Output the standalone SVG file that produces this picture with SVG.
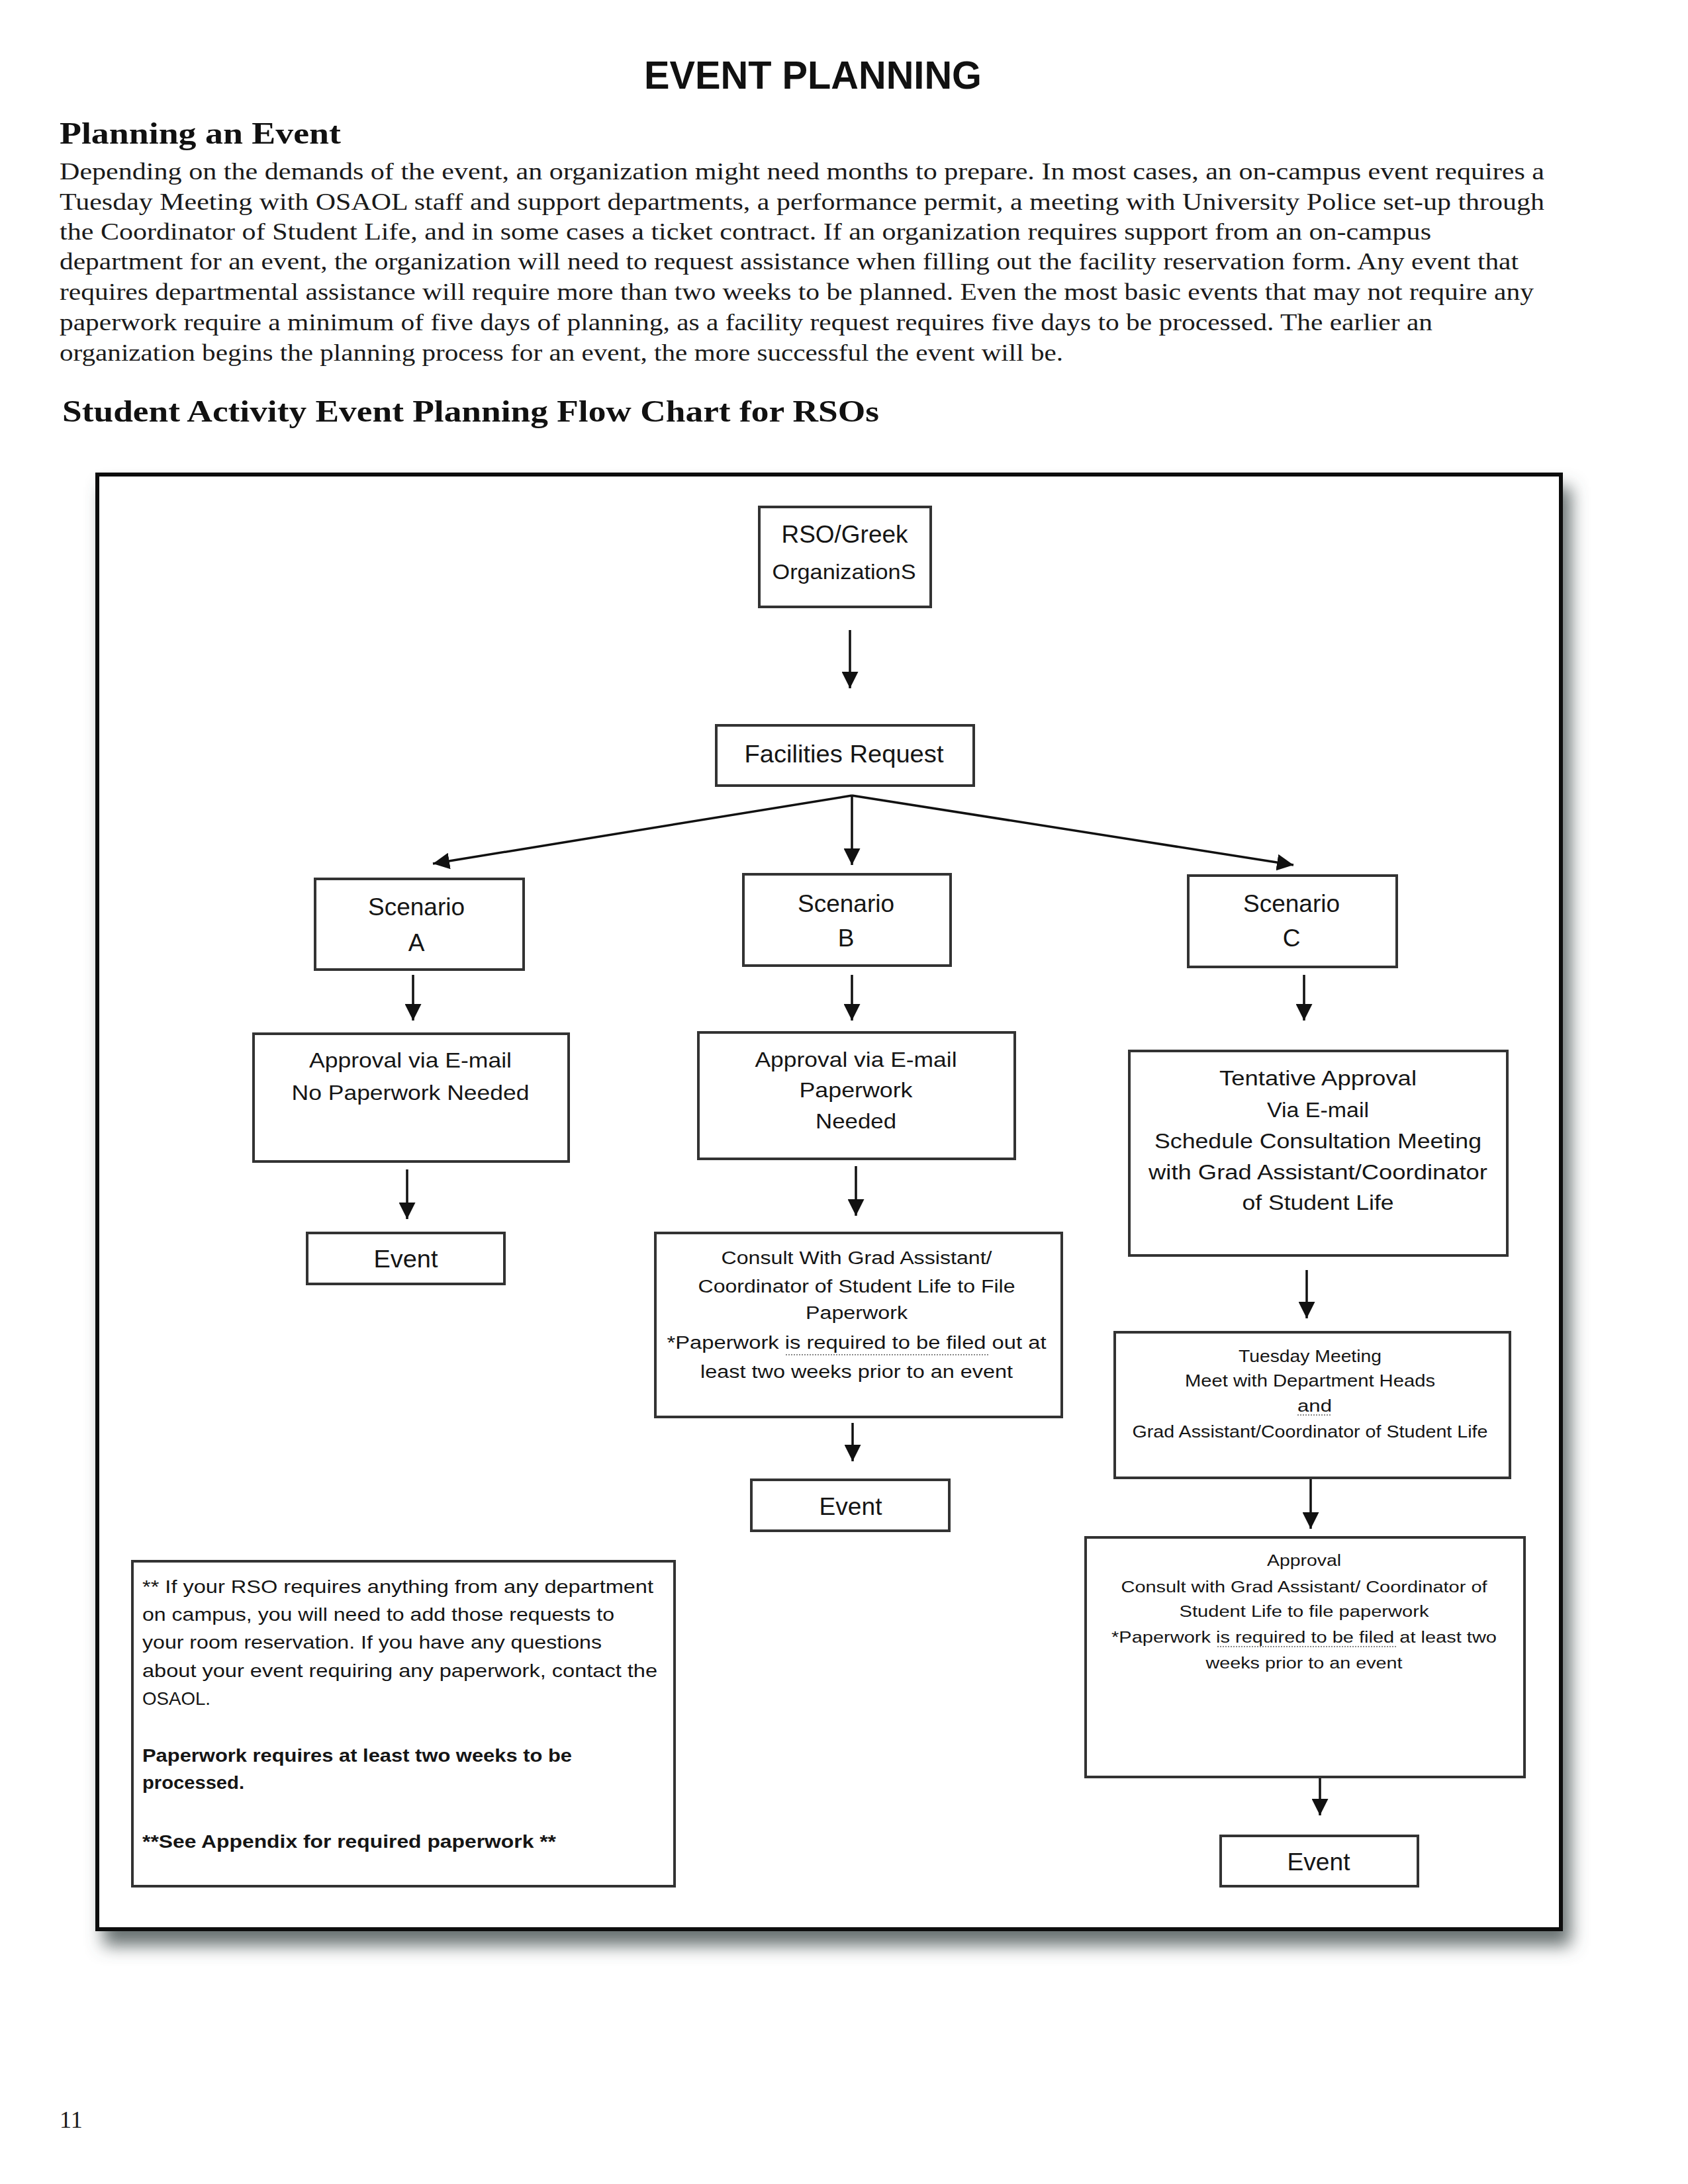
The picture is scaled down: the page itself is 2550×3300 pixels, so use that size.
<svg xmlns="http://www.w3.org/2000/svg" width="2550" height="3300" viewBox="0 0 2550 3300">
<defs>
<style>
.h1{font-family:"Liberation Sans",Arial,sans-serif;font-weight:bold;font-size:59px;fill:#111}
.h2{font-family:"Liberation Serif","Times New Roman",serif;font-weight:bold;font-size:46px;fill:#111}
.p{font-family:"Liberation Serif","Times New Roman",serif;font-size:36px;fill:#1a1a1a}
.t{font-family:"Liberation Sans",Arial,sans-serif;fill:#151515;text-anchor:middle}
.n{font-family:"Liberation Sans",Arial,sans-serif;fill:#151515;font-size:28px}
.nb{font-family:"Liberation Sans",Arial,sans-serif;fill:#151515;font-size:28px;font-weight:bold}
.box{fill:#fff;stroke:#333;stroke-width:4}
.c{stroke:#111;stroke-width:3.5;fill:none}
.sq{stroke:#888;stroke-width:2;stroke-dasharray:2 2;fill:none}
</style>
<marker id="ah" viewBox="0 0 10 10" refX="10" refY="5" markerWidth="25" markerHeight="25" markerUnits="userSpaceOnUse" orient="auto">
<path d="M0,0 L10,5 L0,10 z" fill="#111"/>
</marker>
<filter id="sh" x="-5%" y="-5%" width="115%" height="115%">
<feDropShadow dx="12" dy="22" stdDeviation="13" flood-color="#4f5a5a" flood-opacity="0.85"/>
</filter>
</defs>

<g id="header">
<text class="h1" x="973" y="134" textLength="510" lengthAdjust="spacingAndGlyphs">EVENT PLANNING</text>
<text class="h2" x="90" y="217" textLength="425" lengthAdjust="spacingAndGlyphs">Planning an Event</text>
<text class="p" x="90" y="271" textLength="2243" lengthAdjust="spacingAndGlyphs">Depending on the demands of the event, an organization might need months to prepare. In most cases, an on-campus event requires a</text>
<text class="p" x="90" y="317" textLength="2243" lengthAdjust="spacingAndGlyphs">Tuesday Meeting with OSAOL staff  and support departments, a performance permit, a meeting with University Police set-up through</text>
<text class="p" x="90" y="362" textLength="2072" lengthAdjust="spacingAndGlyphs">the Coordinator of  Student Life, and in some cases a ticket contract. If  an organization requires support from an on-campus</text>
<text class="p" x="90" y="407" textLength="2204" lengthAdjust="spacingAndGlyphs">department for an event, the organization will need to request assistance when filling out the facility reservation form. Any event that</text>
<text class="p" x="90" y="453" textLength="2227" lengthAdjust="spacingAndGlyphs">requires departmental assistance will require more than two weeks to be planned. Even the most basic events that may not require any</text>
<text class="p" x="90" y="499" textLength="2074" lengthAdjust="spacingAndGlyphs">paperwork require a minimum of  five days of planning, as a facility request requires five days to be processed. The earlier an</text>
<text class="p" x="90" y="545" textLength="1516" lengthAdjust="spacingAndGlyphs">organization begins the planning process for an event, the more successful the event will be.</text>
<text class="h2" x="94" y="637" textLength="1234" lengthAdjust="spacingAndGlyphs">Student Activity Event Planning Flow Chart for RSOs</text>
</g>

<rect id="frame" x="147" y="717" width="2211" height="2198" fill="#fff" stroke="#111" stroke-width="6" filter="url(#sh)"/>

<g id="connectors">
<line class="c" x1="1284" y1="952" x2="1284" y2="1040" marker-end="url(#ah)"/>
<line class="c" x1="1287" y1="1202" x2="654" y2="1305" stroke-width="5" stroke="#222" marker-end="url(#ah)"/>
<line class="c" x1="1287" y1="1202" x2="1287" y2="1307" stroke-width="2.5" marker-end="url(#ah)"/>
<line class="c" x1="1287" y1="1202" x2="1954" y2="1307" stroke-width="5" stroke="#222" marker-end="url(#ah)"/>
<line class="c" x1="624" y1="1473" x2="624" y2="1542" marker-end="url(#ah)"/>
<line class="c" x1="1287" y1="1473" x2="1287" y2="1542" marker-end="url(#ah)"/>
<line class="c" x1="1970" y1="1473" x2="1970" y2="1542" marker-end="url(#ah)"/>
<line class="c" x1="615" y1="1767" x2="615" y2="1842" marker-end="url(#ah)"/>
<line class="c" x1="1293" y1="1762" x2="1293" y2="1837" marker-end="url(#ah)"/>
<line class="c" x1="1288" y1="2150" x2="1288" y2="2208" marker-end="url(#ah)"/>
<line class="c" x1="1974" y1="1919" x2="1974" y2="1992" marker-end="url(#ah)"/>
<line class="c" x1="1980" y1="2233" x2="1980" y2="2310" marker-end="url(#ah)"/>
<line class="c" x1="1994" y1="2685" x2="1994" y2="2743" marker-end="url(#ah)"/>
</g>

<g id="rso">
<rect class="box" x="1147" y="766" width="259" height="151"/>
<text class="t" x="1276" y="820" font-size="36" textLength="191" lengthAdjust="spacingAndGlyphs">RSO/Greek</text>
<text class="t" x="1275" y="875" font-size="32" textLength="217" lengthAdjust="spacingAndGlyphs">OrganizationS</text>
</g>

<g id="facilities">
<rect class="box" x="1082" y="1096" width="389" height="91"/>
<text class="t" x="1275" y="1152" font-size="36" textLength="301" lengthAdjust="spacingAndGlyphs">Facilities Request</text>
</g>

<g id="scenarioA">
<rect class="box" x="476" y="1328" width="315" height="137"/>
<text class="t" x="629" y="1383" font-size="37">Scenario</text>
<text class="t" x="629" y="1437" font-size="37">A</text>
</g>
<g id="scenarioB">
<rect class="box" x="1123" y="1321" width="313" height="138"/>
<text class="t" x="1278" y="1378" font-size="37">Scenario</text>
<text class="t" x="1278" y="1430" font-size="37">B</text>
</g>
<g id="scenarioC">
<rect class="box" x="1795" y="1323" width="315" height="138"/>
<text class="t" x="1951" y="1378" font-size="37">Scenario</text>
<text class="t" x="1951" y="1430" font-size="37">C</text>
</g>

<g id="approvalA">
<rect class="box" x="383" y="1562" width="476" height="193"/>
<text class="t" x="620" y="1613" font-size="32" textLength="306" lengthAdjust="spacingAndGlyphs">Approval via E-mail</text>
<text class="t" x="620" y="1662" font-size="32" textLength="359" lengthAdjust="spacingAndGlyphs">No Paperwork Needed</text>
</g>

<g id="approvalB">
<rect class="box" x="1055" y="1560" width="478" height="191"/>
<text class="t" x="1293" y="1612" font-size="32" textLength="305" lengthAdjust="spacingAndGlyphs">Approval via E-mail</text>
<text class="t" x="1293" y="1658" font-size="32" textLength="171" lengthAdjust="spacingAndGlyphs">Paperwork</text>
<text class="t" x="1293" y="1705" font-size="32" textLength="122" lengthAdjust="spacingAndGlyphs">Needed</text>
</g>

<g id="tentativeC">
<rect class="box" x="1706" y="1588" width="571" height="309"/>
<text class="t" x="1991" y="1640" font-size="31" textLength="298" lengthAdjust="spacingAndGlyphs">Tentative Approval</text>
<text class="t" x="1991" y="1688" font-size="31" textLength="154" lengthAdjust="spacingAndGlyphs">Via E-mail</text>
<text class="t" x="1991" y="1735" font-size="31" textLength="494" lengthAdjust="spacingAndGlyphs">Schedule Consultation Meeting</text>
<text class="t" x="1991" y="1782" font-size="31" textLength="512" lengthAdjust="spacingAndGlyphs">with Grad Assistant/Coordinator</text>
<text class="t" x="1991" y="1828" font-size="31" textLength="229" lengthAdjust="spacingAndGlyphs">of Student Life</text>
</g>

<g id="eventA">
<rect class="box" x="464" y="1863" width="298" height="77"/>
<text class="t" x="613" y="1915" font-size="37" textLength="97" lengthAdjust="spacingAndGlyphs">Event</text>
</g>

<g id="consultB">
<rect class="box" x="990" y="1863" width="614" height="278"/>
<text class="t" x="1294" y="1910" font-size="27" textLength="409" lengthAdjust="spacingAndGlyphs">Consult With Grad Assistant/</text>
<text class="t" x="1294" y="1953" font-size="27" textLength="479" lengthAdjust="spacingAndGlyphs">Coordinator of Student Life to File</text>
<text class="t" x="1294" y="1993" font-size="27" textLength="154" lengthAdjust="spacingAndGlyphs">Paperwork</text>
<text class="t" x="1294" y="2038" font-size="27" textLength="573" lengthAdjust="spacingAndGlyphs">*Paperwork is required to be filed out at</text>
<path class="sq" d="M1187,2047 H1494"/>
<text class="t" x="1294" y="2082" font-size="27" textLength="472" lengthAdjust="spacingAndGlyphs">least two weeks prior to an event</text>
</g>

<g id="tuesdayC">
<rect class="box" x="1684" y="2013" width="597" height="220"/>
<text class="t" x="1979" y="2058" font-size="25" textLength="216" lengthAdjust="spacingAndGlyphs">Tuesday Meeting</text>
<text class="t" x="1979" y="2095" font-size="25" textLength="378" lengthAdjust="spacingAndGlyphs">Meet with Department Heads</text>
<text class="t" x="1986" y="2133" font-size="25" textLength="52" lengthAdjust="spacingAndGlyphs">and</text>
<path class="sq" d="M1960,2138 H2012"/>
<text class="t" x="1979" y="2172" font-size="25" textLength="537" lengthAdjust="spacingAndGlyphs">Grad Assistant/Coordinator of Student Life</text>
</g>

<g id="eventB">
<rect class="box" x="1135" y="2236" width="299" height="77"/>
<text class="t" x="1285" y="2289" font-size="37" textLength="95" lengthAdjust="spacingAndGlyphs">Event</text>
</g>

<g id="approvalC">
<rect class="box" x="1640" y="2323" width="663" height="362"/>
<text class="t" x="1970" y="2366" font-size="23" textLength="112" lengthAdjust="spacingAndGlyphs">Approval</text>
<text class="t" x="1970" y="2406" font-size="23" textLength="553" lengthAdjust="spacingAndGlyphs">Consult with Grad Assistant/ Coordinator of</text>
<text class="t" x="1970" y="2443" font-size="23" textLength="377" lengthAdjust="spacingAndGlyphs">Student Life to file paperwork</text>
<text class="t" x="1970" y="2482" font-size="23" textLength="582" lengthAdjust="spacingAndGlyphs">*Paperwork is required to be filed at least two</text>
<path class="sq" d="M1839,2488 H2109"/>
<text class="t" x="1970" y="2521" font-size="23" textLength="297" lengthAdjust="spacingAndGlyphs">weeks prior to an event</text>
</g>

<g id="note">
<rect class="box" x="200" y="2359" width="819" height="491"/>
<text class="n" x="215" y="2407" textLength="772" lengthAdjust="spacingAndGlyphs">** If your RSO requires anything from any department</text>
<text class="n" x="215" y="2449" textLength="713" lengthAdjust="spacingAndGlyphs">on campus, you will need to add those requests to</text>
<text class="n" x="215" y="2491" textLength="694" lengthAdjust="spacingAndGlyphs">your room reservation. If you have any questions</text>
<text class="n" x="215" y="2534" textLength="778" lengthAdjust="spacingAndGlyphs">about your event requiring any paperwork, contact the</text>
<text class="n" x="215" y="2576" textLength="103" lengthAdjust="spacingAndGlyphs">OSAOL.</text>
<text class="nb" x="215" y="2662" textLength="649" lengthAdjust="spacingAndGlyphs">Paperwork requires at least two weeks to be</text>
<text class="nb" x="215" y="2703" textLength="154" lengthAdjust="spacingAndGlyphs">processed.</text>
<text class="nb" x="215" y="2792" textLength="625" lengthAdjust="spacingAndGlyphs">**See Appendix for required paperwork **</text>
</g>

<g id="eventC">
<rect class="box" x="1844" y="2774" width="298" height="76"/>
<text class="t" x="1992" y="2826" font-size="37" textLength="95" lengthAdjust="spacingAndGlyphs">Event</text>
</g>

<text id="page" class="p" x="90" y="3215" font-size="34">11</text>
</svg>
